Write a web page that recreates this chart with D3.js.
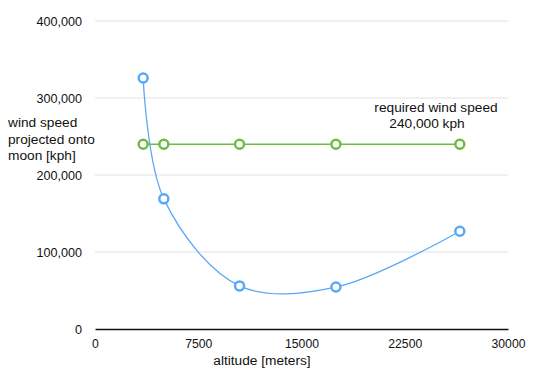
<!DOCTYPE html>
<html>
<head>
<meta charset="utf-8">
<script src="https://cdn.jsdelivr.net/npm/d3@7"></script>
<style>
body { margin: 0; background: #fff; }
text { font-family: "Liberation Sans", Arial, Helvetica, sans-serif; font-size: 13.7px; fill: #111; }
</style>
</head>
<body>
<div id="chart"></div>
<script>
var width = 549;
var height = 379;

// data
var altitudes = [3500, 5000, 10500, 17500, 26500];
var windSpeeds = [326000, 169000, 56000, 54500, 127000];
var requiredSpeeds = [240000, 240000, 240000, 240000, 240000];
var xTicks = [0, 7500, 15000, 22500, 30000];
var yTicks = [0, 100000, 200000, 300000, 400000];
var yTitle = ["wind speed", "projected onto", "moon [kph]"];
var noteLines = ["required wind speed", "240,000 kph"];

var svg = d3.select("#chart").append("svg")
    .attr("width", width)
    .attr("height", height);

var x = d3.scaleLinear().domain([0, 30000]).range([95, 508]);
var y = d3.scaleLinear().domain([0, 400000]).range([329, 21]);

// grid lines
svg.append("g")
    .selectAll("line")
    .data(yTicks.slice(1))
    .enter()
    .append("line")
    .attr("x1", x(0))
    .attr("x2", x(30000))
    .attr("y1", function (d) { return y(d); })
    .attr("y2", function (d) { return y(d); })
    .attr("stroke", "#e2e2e2")
    .attr("stroke-width", 1);

// y tick labels
var yAxis = d3.axisLeft(y).tickValues(yTicks).tickSize(0).tickPadding(13)
    .tickFormat(d3.format(","));
var gy = svg.append("g")
    .attr("transform", "translate(" + x(0) + ",0)")
    .call(yAxis);
gy.select(".domain").remove();
gy.selectAll("text").style("font-size", "12.6px").attr("fill", "#111");

// x axis
var xAxis = d3.axisBottom(x).tickValues(xTicks).tickSize(0).tickPadding(10)
    .tickFormat(d3.format("d"));
var gx = svg.append("g")
    .attr("transform", "translate(0," + y(0) + ")")
    .call(xAxis);
gx.select(".domain").attr("stroke", "#111").attr("stroke-width", 1.5);
gx.selectAll("text").style("font-size", "12.2px").attr("fill", "#111");

var blue = d3.zip(altitudes, windSpeeds);
var green = d3.zip(altitudes, requiredSpeeds);

var line = d3.line()
    .x(function (d) { return x(d[0]); })
    .y(function (d) { return y(d[1]); });

svg.append("path")
    .datum(green)
    .attr("d", line.curve(d3.curveLinear))
    .attr("fill", "none")
    .attr("stroke", "#6dbd45")
    .attr("stroke-width", 1.5);

svg.append("path")
    .datum(blue)
    .attr("d", line.curve(d3.curveCatmullRom.alpha(0.5)))
    .attr("fill", "none")
    .attr("stroke", "#5aa9f6")
    .attr("stroke-width", 1.3);

function dots(data, color) {
    svg.append("g")
        .selectAll("circle")
        .data(data)
        .enter()
        .append("circle")
        .attr("cx", function (d) { return x(d[0]); })
        .attr("cy", function (d) { return y(d[1]); })
        .attr("r", 4.5)
        .attr("fill", "#fff")
        .attr("stroke", color)
        .attr("stroke-width", 2.5);
}
dots(green, "#6dbd45");
dots(blue, "#5aa9f6");

// y title
svg.append("text")
    .attr("x", 8)
    .attr("y", 127)
    .selectAll("tspan")
    .data(yTitle)
    .enter()
    .append("tspan")
    .attr("x", 8)
    .attr("dy", function (d, i) { return i == 0 ? 0 : 16.5; })
    .text(function (d) { return d; });

// x title
svg.append("text")
    .attr("x", 262)
    .attr("y", 365)
    .attr("text-anchor", "middle")
    .text("altitude [meters]");

// annotation
svg.append("text")
    .attr("text-anchor", "middle")
    .selectAll("tspan")
    .data(noteLines)
    .enter()
    .append("tspan")
    .attr("x", function (d, i) { return i == 0 ? 436 : 427; })
    .attr("y", function (d, i) { return 112 + i * 16; })
    .text(function (d) { return d; });
</script>
</body>
</html>
